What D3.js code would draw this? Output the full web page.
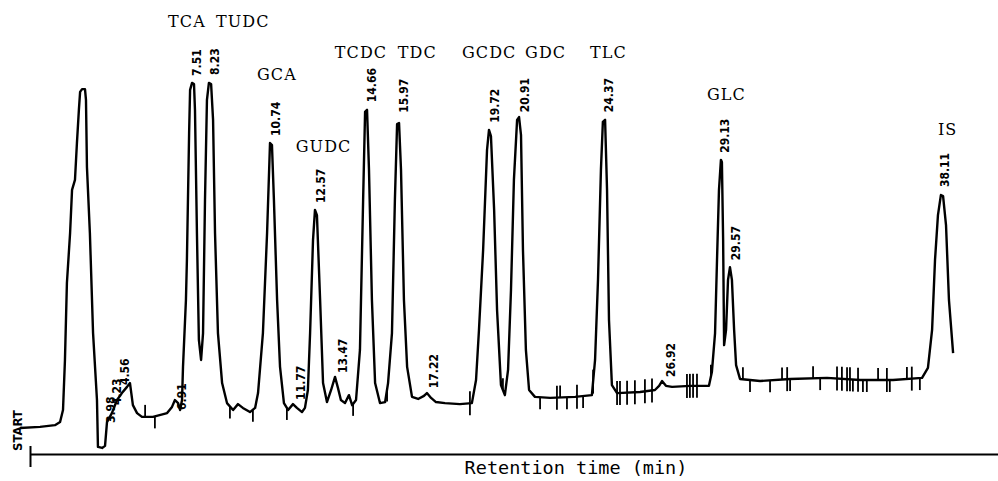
<!DOCTYPE html>
<html><head><meta charset="utf-8">
<script src="https://cdn.jsdelivr.net/npm/d3@7"></script>
<style>html,body{margin:0;padding:0;background:#fff;} svg{display:block}</style>
</head><body>
<svg id="chart" width="998" height="481"></svg>
<script>
// ---------- DATA ----------
// detector trace: retention time (min) and response (arbitrary units)
const traceTime = [0.47,1.29,1.90,2.11,2.23,2.31,2.39,2.52,2.60,2.72,2.80,2.88,2.93,3.01,3.13,3.17,3.21,3.33,3.46,3.62,3.66,3.83,3.95,4.03,4.23,4.44,4.64,4.85,4.97,5.09,5.26,5.46,5.91,6.49,6.69,6.81,6.94,7.02,7.10,7.14,7.26,7.30,7.39,7.43,7.51,7.59,7.63,7.71,7.79,7.88,7.96,8.04,8.12,8.20,8.29,8.37,8.45,8.57,8.74,8.94,9.19,9.39,9.59,9.88,10.09,10.21,10.41,10.58,10.70,10.78,10.86,10.99,11.11,11.27,11.44,11.64,11.80,12.01,12.13,12.25,12.34,12.46,12.54,12.62,12.75,12.87,13.03,13.20,13.36,13.48,13.60,13.77,13.93,14.06,14.22,14.38,14.51,14.59,14.67,14.75,14.87,15.00,15.20,15.41,15.53,15.69,15.81,15.90,15.98,16.06,16.18,16.31,16.51,16.76,17.00,17.12,17.29,17.49,17.86,18.47,18.96,19.13,19.25,19.42,19.58,19.66,19.74,19.87,19.99,20.15,20.31,20.44,20.56,20.68,20.81,20.89,20.97,21.05,21.17,21.30,21.54,22.16,23.18,23.87,24.00,24.12,24.24,24.32,24.41,24.49,24.57,24.69,24.90,25.84,26.45,26.62,26.74,26.90,27.15,27.89,28.66,28.78,28.91,28.99,29.07,29.15,29.19,29.24,29.28,29.36,29.44,29.52,29.60,29.69,29.77,29.93,30.75,31.98,33.49,34.84,36.19,37.38,37.62,37.79,37.91,38.03,38.15,38.24,38.36,38.48,38.65];
const traceSignal = [0.6,0.9,1.4,2.3,5.8,20.3,42.6,57.1,69.6,72.5,83.2,92.8,98.0,98.8,98.8,95.7,76.2,57.1,28.1,8.7,-4.9,-5.2,-4.6,2.3,4.9,8.7,10.7,12.5,13.6,7.2,4.9,3.8,3.8,4.9,6.7,8.7,7.8,5.8,8.7,18.3,37.7,49.3,86.1,98.6,100.6,100.3,92.8,57.1,26.1,20.3,28.1,66.7,95.7,100.6,100.3,89.9,57.1,28.1,13.6,7.8,5.8,7.5,6.4,5.2,6.4,10.7,28.1,57.1,83.2,82.6,66.7,37.7,18.3,7.8,5.8,7.5,6.4,5.2,6.4,11.6,28.1,55.1,63.8,62.3,37.7,13.6,8.1,11.6,15.4,12.2,8.7,7.8,10.1,7.2,8.7,23.2,66.7,92.2,92.8,75.4,37.7,13.6,7.8,8.1,13.6,28.1,66.7,88.7,89.0,75.4,37.7,18.3,9.6,9.0,9.9,10.7,9.3,8.1,7.8,7.5,7.8,14.5,29.0,52.2,81.2,87.0,85.2,63.8,34.8,13.0,10.1,17.4,40.6,72.5,89.9,90.7,85.5,52.2,23.2,11.6,9.6,9.3,9.6,10.1,20.3,43.5,75.4,89.3,89.9,69.6,31.9,13.0,10.7,11.0,11.6,12.8,14.2,12.8,12.5,12.8,12.8,16.8,28.1,49.3,69.6,78.3,77.7,55.1,24.6,29.0,43.5,47.2,43.5,29.0,18.8,14.8,14.2,14.8,15.1,14.5,14.5,15.1,18.0,29.0,49.3,62.3,68.1,67.8,59.4,37.7,22.3];

// integrator retention-time printouts and the response level they sit on
const rtLabels = ["3.98","4.23","4.56","6.91","7.51","8.23","10.74","11.77","12.57","13.47","14.66","15.97","17.22","19.72","20.91","24.37","26.92","29.13","29.57","38.11"];
const rtLevels = [0,5.2,11.0,3.8,100.6,100.9,83.2,6.7,63.8,14.5,93.0,89.9,10.1,87.0,90.1,90.1,13.3,78.3,47.2,68.4];

// peak identifications
const compoundNames = ["TCA TUDC","GCA","GUDC","TCDC","TDC","GCDC","GDC","TLC","GLC","IS"];
const compoundTimes = [7.51,10.74,12.57,14.66,15.97,19.72,20.91,24.37,29.13,38.11];

// integration event marks: time and kind (u = up, d = down, b = both)
const eventTimes = [5.59,5.99,9.06,10.00,11.39,14.10,15.49,18.88,20.23,21.75,22.44,22.57,22.85,23.26,23.51,23.92,24.90,25.02,25.31,25.63,26.04,26.33,27.76,27.88,28.01,28.17,28.74,30.05,30.34,31.16,31.65,31.86,31.98,32.92,33.21,33.90,34.10,34.31,34.43,34.55,34.76,34.96,35.12,35.58,35.94,36.06,36.76,36.96,37.29];
const eventKinds = ["u","d","d","d","d","d","d","b","u","d","b","u","d","b","d","b","b","b","b","b","b","b","b","b","b","b","u","u","d","d","u","b","d","u","d","b","b","b","b","d","b","d","d","u","b","d","u","b","d"];

const axisTitle = "Retention time (min)";
const startText = "START";

// ---------- LAYOUT ----------
const svg = d3.select('#chart');
const x = d3.scaleLinear().domain([0, 40]).range([8.5, 986.1]);
const y = d3.scaleLinear().domain([0, 100]).range([430, 85]);

const pts = traceTime.map((t, i) => [t, traceSignal[i]]);
const bis = d3.bisector(d => d[0]).left;
function sigAt(t) {
  const i = bis(pts, t);
  if (i <= 0) return pts[0][1];
  if (i >= pts.length) return pts[pts.length - 1][1];
  const a = pts[i - 1], b = pts[i];
  return a[1] + (b[1] - a[1]) * (t - a[0]) / (b[0] - a[0]);
}

// trace
svg.append('path').datum(pts)
  .attr('d', d3.line().x(d => x(d[0])).y(d => y(d[1])))
  .attr('fill', 'none').attr('stroke', '#000')
  .attr('stroke-width', 2.4).attr('stroke-linejoin', 'round');

// event marks
svg.append('g').selectAll('line').data(eventTimes).join('line')
  .attr('x1', d => x(d)).attr('x2', d => x(d))
  .attr('y1', (d, i) => y(sigAt(d)) - (eventKinds[i] === 'd' ? 0 : 12))
  .attr('y2', (d, i) => y(sigAt(d)) + (eventKinds[i] === 'u' ? 0 : 12))
  .attr('stroke', '#000').attr('stroke-width', 1.8);

// retention-time printouts (rotated)
svg.append('g').selectAll('text').data(rtLabels).join('text')
  .attr('transform', (d, i) => `translate(${x(+d) + 9},${y(rtLevels[i]) - 7}) rotate(-90)`)
  .attr('font-family', '"DejaVu Sans Condensed","DejaVu Sans","Liberation Sans Narrow",sans-serif')
  .attr('font-stretch', 'condensed')
  .attr('font-weight', 'bold').attr('font-size', 12)
  .attr('fill', '#000').text(d => d);

// compound names
const nameNudge = [[-24, 27], [-14, 80], [-20, 152], [-32, 58], [-1, 58], [-28.5, 58], [5.5, 58], [-14, 58], [-13.5, 100], [-2, 135]];
svg.append('g').selectAll('text').data(compoundNames).join('text')
  .attr('x', (d, i) => x(compoundTimes[i]) + nameNudge[i][0])
  .attr('y', (d, i) => nameNudge[i][1])
  .attr('font-family', '"DejaVu Serif","Liberation Serif",serif')
  .attr('font-size', 16).attr('letter-spacing', 1.1).attr('word-spacing', 4)
  .attr('fill', '#000').text(d => d);

// START marker
svg.append('text')
  .attr('transform', 'translate(22,451) rotate(-90)')
  .attr('font-family', '"DejaVu Sans Condensed","DejaVu Sans",sans-serif')
  .attr('font-stretch', 'condensed')
  .attr('font-weight', 'bold').attr('font-size', 13)
  .attr('fill', '#000').text(startText);

// time axis
const axisScale = d3.scaleLinear().domain([x.invert(30), x.invert(998)]).range([30, 998]);
const ax = svg.append('g').attr('transform', 'translate(0,454)')
  .call(d3.axisBottom(axisScale).tickValues([axisScale.domain()[0]]).tickSize(13).tickSizeOuter(0).tickFormat(''));
ax.select('.domain').attr('stroke', '#000').attr('stroke-width', 2);
ax.selectAll('.tick line').attr('y1', -8).attr('stroke', '#000').attr('stroke-width', 2);

svg.append('text')
  .attr('x', 576).attr('y', 474).attr('text-anchor', 'middle')
  .attr('font-family', '"DejaVu Sans Mono",monospace')
  .attr('font-size', 18.5).attr('fill', '#000')
  .text(axisTitle);
</script>
</body></html>
